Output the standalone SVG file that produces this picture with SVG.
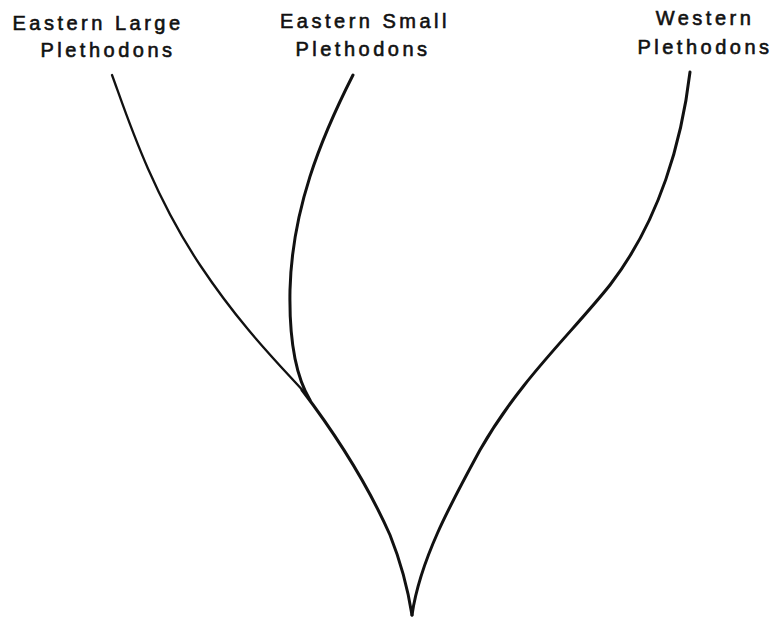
<svg xmlns="http://www.w3.org/2000/svg" width="772" height="621" viewBox="0 0 772 621">
<style>
text{font-family:"Liberation Sans",Arial,sans-serif;font-size:20px;letter-spacing:3.5px;fill:#111;stroke:#111;stroke-width:0.6;text-anchor:middle}
.b{fill:none;stroke:#111;stroke-width:3;stroke-linecap:round}
.t{stroke-width:2.3}
</style>
<rect width="772" height="621" fill="#fff"/>
<g id="eastern-large">
<text x="98" y="30">Eastern Large</text>
<text x="108" y="57">Plethodons</text>
</g>
<g id="eastern-small">
<text x="365" y="28">Eastern Small</text>
<text x="363" y="56">Plethodons</text>
</g>
<g id="western">
<text x="705" y="25">Western</text>
<text x="705" y="54">Plethodons</text>
</g>
<g id="connectors">
<path class="b t" d="M112,75 C125,110 150,190 200,265 C240,325 275,360 305,393"/>
<path class="b" d="M353,75 C320,140 292,210 290,290 C289,340 295,375 310,400"/>
<path class="b" d="M302,390 C340,440 370,490 390,535 C402,565 408,590 412,615"/>
<path class="b" d="M690,72 C682,140 660,220 610,285 C570,335 520,380 480,450 C450,505 420,560 412,615"/>
</g>
</svg>
